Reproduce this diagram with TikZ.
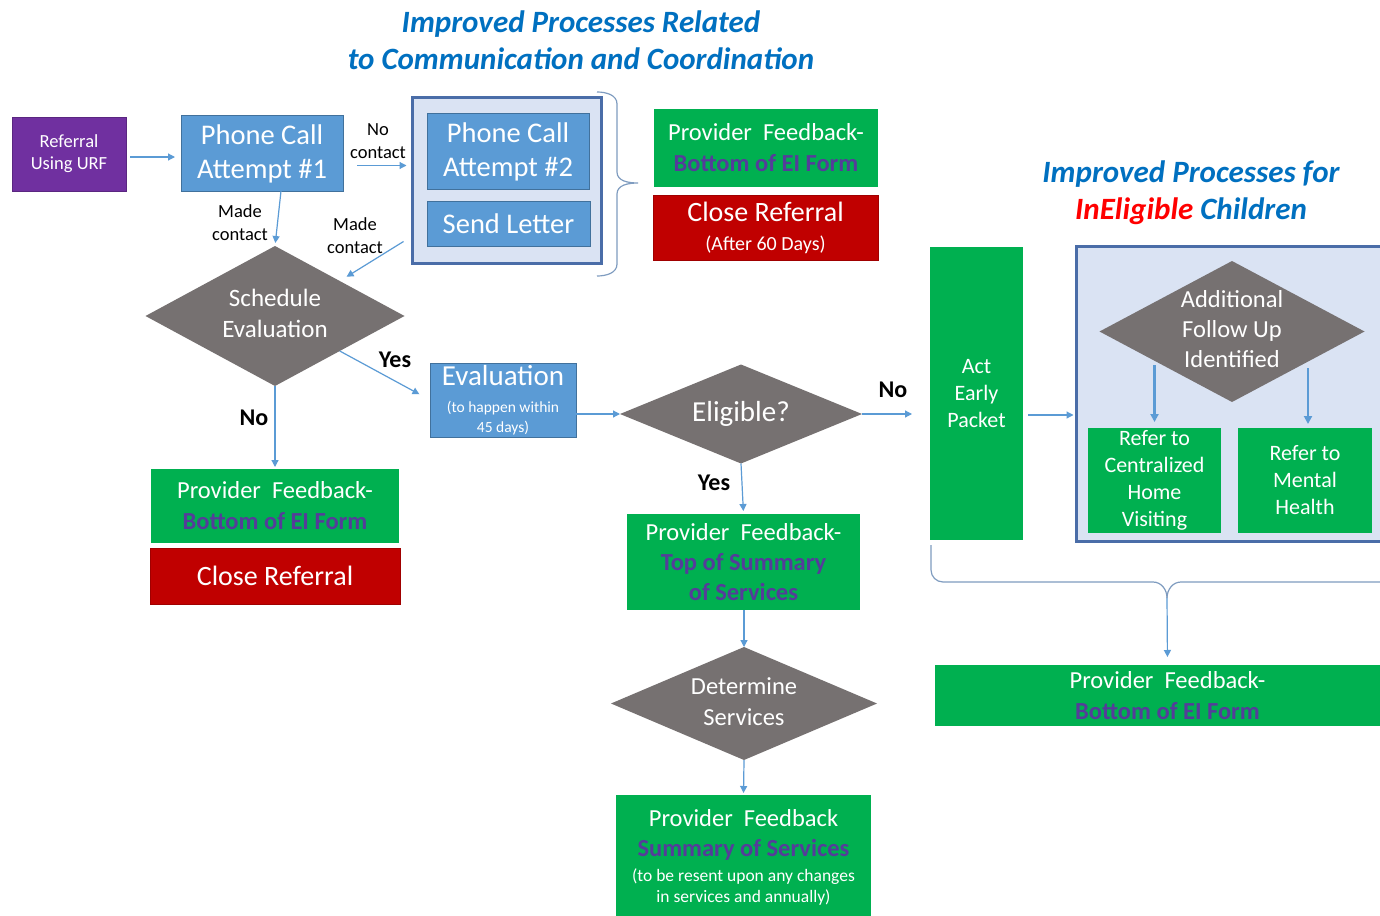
\documentclass[tikz,border=0pt]{standalone}
\usepackage{fontspec}
\setmainfont{Carlito}
\usetikzlibrary{shapes.geometric,arrows.meta}
\definecolor{cBlue}{HTML}{5B9BD5}
\definecolor{cBlueD}{HTML}{41719C}
\definecolor{cGreen}{HTML}{00B050}
\definecolor{cRed}{HTML}{C00000}
\definecolor{cRedD}{HTML}{A00000}
\definecolor{cPurple}{HTML}{7030A0}
\definecolor{cGray}{HTML}{767171}
\definecolor{cLight}{HTML}{DAE3F3}
\definecolor{cGrpD}{HTML}{4A6DA8}
\definecolor{cArrow}{HTML}{5B9BD5}
\definecolor{cBrace}{HTML}{7F9CC0}
\definecolor{cDark}{HTML}{553C9A}
\definecolor{cTitle}{HTML}{0070C0}
\definecolor{cRedT}{HTML}{FF0000}
\newcommand\fsz[2]{\fontsize{#1}{#2}\selectfont}
\newcommand\dtext[1]{\makebox[0pt]{\smash{\raisebox{-0.25em}{\begin{tabular}{@{}c@{}}#1\end{tabular}}}}}
\newcommand\dk[1]{{\bfseries\color{cDark}#1}}
\begin{document}
\begin{tikzpicture}[x=1pt,y=-1pt,
  box/.style={rectangle, inner sep=0pt, outer sep=0pt, text=white, align=center},
  bluebox/.style={box, fill=cBlue, draw=cBlueD, line width=1pt},
  greenbox/.style={box, fill=cGreen},
  redbox/.style={box, fill=cRed, draw=cRedD, line width=0.8pt},
  purplebox/.style={box, fill=cPurple, draw=cPurple!80!black, line width=0.8pt},
  dia/.style={diamond, fill=cGray, inner sep=0pt, outer sep=0pt, text=white},
  grpbox/.style={rectangle, fill=cLight, draw=cGrpD, line width=3pt, inner sep=0pt, outer sep=0pt},
  arr/.style={draw=cArrow, line width=1.2pt, -{Triangle[width=7pt,length=7pt]}},
  thickarr/.style={draw=cArrow, line width=2.4pt, -{Triangle[width=8pt,length=8pt]}},
  brace/.style={draw=cBrace, line width=1.2pt},
  lab/.style={inner sep=0pt, align=center, text=black, font=\fsz{18.5}{23}},
  yn/.style={inner sep=0pt, text=black, font=\fsz{24}{28}\bfseries},
  title/.style={inner sep=0pt, align=center, text=cTitle, font=\fsz{31}{37}\bfseries\itshape},
  pf/.style={greenbox, font=\fsz{24.5}{31}}
]
\useasboundingbox (0,0) rectangle (1380,915);
\fill[white] (0,0) rectangle (1380,915);

% titles
\node[title] (t1) at (581,40) {Improved Processes Related\\to Communication and Coordination};
\node[title] (t2) at (1191,193) {Improved Processes for\\\textcolor{cRedT}{InEligible} Children};

% top row
\node[purplebox, minimum width=114pt, minimum height=74pt, font=\fsz{18.5}{22}] (ref) at (69,154) {Referral\\Using URF};
\node[bluebox, minimum width=162pt, minimum height=75pt, font=\fsz{28.5}{34}] (p1) at (262,153.5) {Phone Call\\Attempt \#1};
\node[grpbox, minimum width=189pt, minimum height=166pt] (grp) at (507,180.5) {};
\node[bluebox, minimum width=162pt, minimum height=75pt, font=\fsz{28.5}{34}] (p2) at (508,151.5) {Phone Call\\Attempt \#2};
\node[bluebox, minimum width=163pt, minimum height=45pt, font=\fsz{28.5}{34}] (sl) at (508.5,223.5) {Send Letter};
\draw[brace] (597,92) to[out=0,in=90] (617,104) -- (617,172) to[out=-90,in=180] (638,183)
  to[out=180,in=90] (617,194) -- (617,264) to[out=-90,in=0] (597,276);
\node[pf, minimum width=224pt, minimum height=78pt] (pfTR) at (766,148) {Provider\ \ Feedback-\\\dk{Bottom of EI Form}};
\node[redbox, minimum width=225pt, minimum height=65pt, font=\fsz{20}{24}] (crTR) at (765.5,227.5) {\fsz{28}{32}Close Referral\\[5pt](After 60 Days)};

\draw[arr, shorten <=4pt, shorten >=6pt] (ref.east |- 0,157) -- (p1.west |- 0,157);
\draw[arr, shorten >=6pt] ([xshift=14pt,yshift=-12pt]p1.east) -- ([yshift=-12pt]p1.east -| grp.west);
\node[lab] (lnc) at (378,141) {No\\contact};

% schedule evaluation
\node[dia, minimum width=259pt, minimum height=140pt, font=\fsz{25}{31}] (sched) at (275,316) {\dtext{Schedule\\Evaluation}};
\draw[arr, shorten >=3pt] ([xshift=19pt]p1.south) -- (sched.north);
\node[lab] (lmc1) at (240,223) {Made\\contact};
\draw[arr, shorten >=8pt] ([xshift=-9pt,yshift=22pt]grp.south west) -- (sched.north east);
\node[lab] (lmc2) at (355,236) {Made\\contact};

\node[pf, minimum width=248pt, minimum height=74pt] (pfL) at (275,506) {Provider\ \ Feedback-\\\dk{Bottom of EI Form}};
\node[redbox, minimum width=250pt, minimum height=56pt, font=\fsz{28}{32}] (crL) at (275,576) {Close Referral};
\draw[arr, shorten >=2pt] (sched.south) -- (pfL.north);
\node[yn] (lno1) at (254,418) {No};

\node[bluebox, minimum width=146pt, minimum height=74pt, font=\fsz{15.5}{20}] (eval) at (503,400) {\fsz{29}{32}Evaluation\\[7pt](to happen within\\45 days)};
\draw[arr, shorten >=12pt] (sched.south east) -- (eval.west);
\node[yn] (lyes1) at (395,360) {Yes};

% eligible
\node[dia, minimum width=242pt, minimum height=99pt, font=\fsz{29}{31}] (elig) at (741,414) {\dtext{Eligible?}};
\draw[arr] (eval.east |- elig.west) -- (elig.west);
\node[pf, minimum width=233pt, minimum height=96pt, font=\fsz{24.5}{30}] (pfTop) at (743.5,562) {Provider\ \ Feedback-\\\dk{Top of Summary}\\\dk{of Services}};
\draw[arr, shorten >=3pt] (elig.south) -- (pfTop.north);
\node[yn] (lyes2) at (714,483) {Yes};

\node[dia, minimum width=266pt, minimum height=113pt, font=\fsz{24.5}{31}] (det) at (744,703.5) {\dtext{Determine\\Services}};
\draw[arr] (pfTop.south -| det.north) -- (det.north);
\node[greenbox, minimum width=255pt, minimum height=125pt, font=\fsz{17.5}{21}] (pfSum) at (743.5,857.5) {\fsz{24.5}{30}Provider\ \ Feedback\\[9pt]\fsz{24.5}{30}\dk{Summary of Services}\\[4pt](to be resent upon any changes\\in services and annually)};
\draw[arr, shorten >=2pt] (det.south) -- (pfSum.north);

% ineligible side
\node[greenbox, minimum width=93pt, minimum height=293pt, font=\fsz{22}{27}] (act) at (976.5,393.5) {Act\\Early\\Packet};
\draw[arr, shorten >=18pt] (elig.east) -- (elig.east -| act.west);
\node[yn] (lno2) at (893,390) {No};

\node[grpbox, minimum width=317pt, minimum height=295pt] (grp2) at (1235,394) {};
\draw[arr, shorten <=5pt, shorten >=3pt] (act.east |- 0,415) -- (grp2.west |- 0,415);
\node[dia, minimum width=265pt, minimum height=141pt, font=\fsz{24.5}{30}] (add) at (1232,331.5) {\dtext{Additional\\Follow Up\\Identified}};
\node[greenbox, minimum width=133pt, minimum height=105pt, font=\fsz{22}{27}] (ref1) at (1154.5,480.5) {Refer to\\Centralized\\Home\\Visiting};
\node[greenbox, minimum width=134pt, minimum height=105pt, font=\fsz{22}{27}] (ref2) at (1305,480.5) {Refer to\\Mental\\Health};
\draw[thickarr] ([yshift=63pt]ref1.north) -- ([yshift=6pt]ref1.north);
\draw[thickarr] ([xshift=3pt,yshift=60pt]ref2.north) -- ([xshift=3pt,yshift=4pt]ref2.north);

% bottom brace
\coordinate (btip) at (1167,598);
\draw[brace] ([xshift=1pt,yshift=-5pt]act.south west) -- (931,570) to[out=-90,in=180] (943,582) -- (1153,582) to[out=0,in=90] (btip);
\draw[brace] (1400,582) -- (1181,582) to[out=180,in=90] (btip);
\node[pf, minimum width=465pt, minimum height=61pt] (pfB) at (1167.5,695.5) {Provider\ \ Feedback-\\\dk{Bottom of EI Form}};
\draw[arr, shorten >=8pt] (btip) -- (pfB.north);
\end{tikzpicture}
\end{document}
